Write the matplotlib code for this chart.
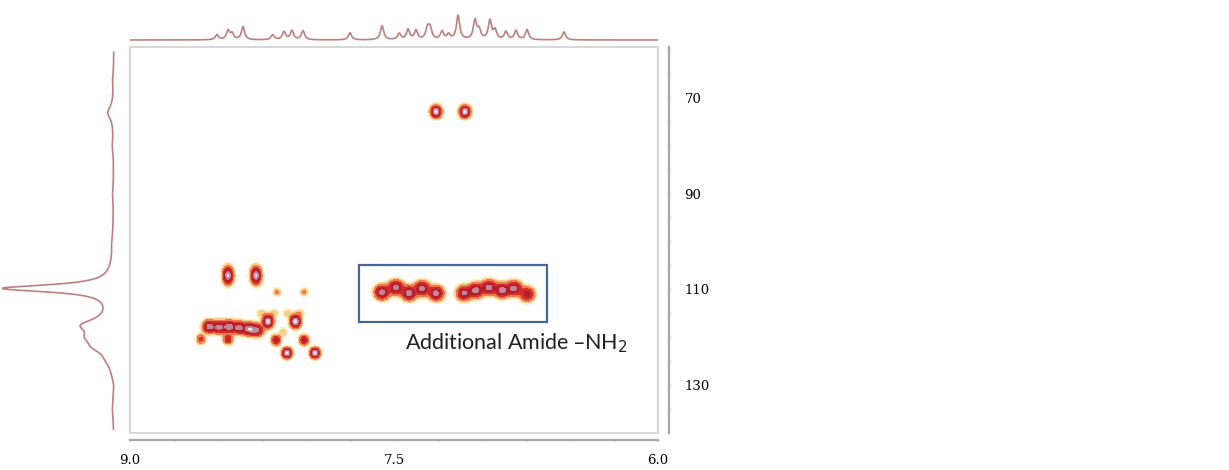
import numpy as np
import matplotlib.pyplot as plt
from matplotlib.patches import Rectangle

# 2D cross peaks: 1H shift (ppm), 13C/15N shift (ppm), relative intensity
peak_h = [7.261, 7.097,
          8.443, 8.284, 8.165, 8.011,
          8.550, 8.494, 8.438, 8.381, 8.324, 8.278,
          8.216, 8.060,
          8.255, 8.180, 8.105, 8.035,
          8.597, 8.443, 8.170, 8.130, 8.011, 8.108, 7.949,
          7.568, 7.489, 7.415, 7.341, 7.261,
          7.102, 7.034, 6.960, 6.886, 6.818, 6.744]
peak_c = [72.9, 72.9,
          107.1, 107.1, 110.6, 110.6,
          117.8, 117.9, 117.8, 118.0, 118.3, 118.5,
          116.7, 116.7,
          115.0, 115.0, 115.0, 115.0,
          120.4, 120.4, 120.6, 119.0, 120.6, 123.3, 123.3,
          110.6, 109.6, 110.8, 109.8, 110.8,
          110.8, 110.2, 109.6, 110.2, 109.8, 111.0]
peak_int = [1.0, 1.0,
            0.9, 0.9, 0.18, 0.18,
            0.8, 0.75, 0.8, 0.75, 0.8, 0.7,
            1.0, 1.0,
            0.13, 0.12, 0.13, 0.13,
            0.35, 0.5, 0.55, 0.13, 0.55, 1.0, 1.0,
            0.8, 0.8, 0.8, 0.8, 0.8,
            0.75, 0.8, 0.8, 0.8, 0.8, 0.6]
peak_wh = [0.018] * 2 + [0.018] * 2 + [0.015] * 2 + [0.022] * 6 + [0.018] * 2 + \
          [0.017] * 4 + [0.016] * 7 + [0.025] * 11
peak_wc = [0.75] * 2 + [1.1] * 2 + [0.55] * 2 + [0.8] * 6 + [0.8] * 2 + \
          [0.55] * 4 + [0.65] * 7 + [0.9] * 11

# 1D 1H projection (top)
top_ppm = [8.506, 8.443, 8.42, 8.358, 8.19, 8.125, 8.08, 8.017, 7.75, 7.568,
           7.47, 7.42, 7.375, 7.31, 7.295, 7.227, 7.19, 7.136, 7.04, 7.017,
           6.955, 6.926, 6.864, 6.807, 6.744, 6.534]
top_int = [5, 9, 6, 13, 5, 8, 9, 9, 7, 14,
           6, 10, 9, 11, 11, 8, 5, 24, 19, 9,
           19, 9, 8, 9, 10, 8]

# 1D projection (left)
left_ppm = [66.0, 73.1, 80.0, 90.0, 100.0, 109.8, 117.5, 120.0, 122.0, 124.8, 130.0, 135.0]
left_int = [1.0, 6.0, 1.2, 1.0, 1.0, 110.0, 26.0, 16.0, 13.0, 3.0, -1.5, 1.0]

x_ticks = [9.0, 7.5, 6.0]
y_ticks = [70, 90, 110, 130]
box_label = 'Additional Amide \u2013NH$_2$'

fig = plt.figure(figsize=(12.29, 4.70), dpi=100)

ax = fig.add_axes([130 / 1229, 37 / 470, 528 / 1229, 386 / 470])
ax_top = fig.add_axes([130 / 1229, 428 / 470, 528 / 1229, 36 / 470])
ax_left = fig.add_axes([2 / 1229, 37 / 470, 120 / 1229, 386 / 470])

# 2D spectrum
xs = np.linspace(9.0, 6.0, 900)
ys = np.linspace(59.4, 140.0, 600)
X, Y = np.meshgrid(xs, ys)
Z = np.zeros_like(X)
for h, c, a, wh, wc in zip(peak_h, peak_c, peak_int, peak_wh, peak_wc):
    Z += a * np.exp(-0.5 * ((X - h) / wh) ** 2 - 0.5 * ((Y - c) / wc) ** 2)

levels = [0.035, 0.08, 0.15, 0.3, 0.5, 0.7, 0.88, 5]
colours = ['#fdf1cc', '#f9cd8a', '#ef7a50', '#d62b2b', '#b01e2e', '#c98090', '#eee2e6']
ax.contourf(X, Y, Z, levels=levels, colors=colours)
ax.contour(X, Y, Z, levels=[0.8, 1.0, 1.2], colors='#b8909a', linewidths=0.6)

ax.set_xlim(9.0, 6.0)
ax.set_ylim(140.0, 59.4)

# light box around the spectrum
ax.add_patch(Rectangle((0, 0), 1, 1, transform=ax.transAxes, fill=False,
                       edgecolor='#d8d8d8', linewidth=1.5, clip_on=False, zorder=5))

for s in ['top', 'left']:
    ax.spines[s].set_visible(False)
ax.spines['bottom'].set_position(('outward', 5))
ax.spines['right'].set_position(('outward', 8))
for s in ['bottom', 'right']:
    ax.spines[s].set_color('#a8a8a8')
    ax.spines[s].set_linewidth(1.6)

ax.yaxis.tick_right()
ax.set_xticks(x_ticks)
ax.set_xticklabels(['%.1f' % v for v in x_ticks])
ax.set_xticks(np.arange(6.0, 9.01, 0.25), minor=True)
ax.set_yticks(y_ticks)
ax.set_yticks(np.arange(60, 140, 5), minor=True)
ax.tick_params(axis='both', which='both', length=2, width=1, color='#a8a8a8',
               direction='inout', labelsize=9.5)
ax.tick_params(axis='x', which='major', pad=9)
ax.tick_params(axis='y', which='major', pad=10)
for lab in ax.get_xticklabels() + ax.get_yticklabels():
    lab.set_fontfamily('DejaVu Serif')

# highlighted amide region
ax.add_patch(Rectangle((7.699, 104.9), 6.631 - 7.699, 116.9 - 104.9, fill=False,
                       edgecolor='#4a6794', linewidth=1.6, zorder=6))
ax.text(7.44, 121.3, box_label, fontsize=15.5, family='Lato', color='#202020',
        ha='left', va='center')

# top projection
hx = np.linspace(9.0, 6.0, 3000)
top_trace = np.zeros_like(hx)
for p, a in zip(top_ppm, top_int):
    top_trace += a / (1 + ((hx - p) / 0.011) ** 2)
ax_top.plot(hx, top_trace, color='#bd8080', linewidth=1.2)
ax_top.set_xlim(9.0, 6.0)
ax_top.set_ylim(-2, 34)
ax_top.axis('off')

# left projection
cy = np.linspace(60.5, 139.2, 2000)
left_trace = np.zeros_like(cy)
for p, a in zip(left_ppm, left_int):
    w = 0.9 if a > 50 else 1.6
    left_trace += a / (1 + ((cy - p) / w) ** 2)
ax_left.plot(left_trace, cy, color='#bd8080', linewidth=1.2)
ax_left.set_xlim(112, -8)
ax_left.set_ylim(140.0, 59.4)
ax_left.axis('off')

fig.savefig('out.png', dpi=100)
